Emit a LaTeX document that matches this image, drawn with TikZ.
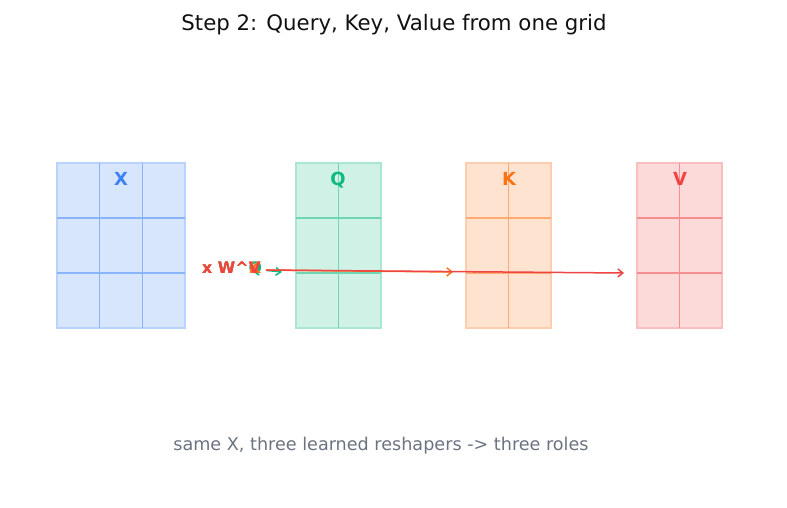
\documentclass[tikz,border=0pt]{standalone}
\usepackage{fontspec}
\setmainfont{DejaVu Sans}
\usetikzlibrary{arrows.meta}
\definecolor{cx}{HTML}{3B82F6}
\definecolor{cq}{HTML}{10B981}
\definecolor{ck}{HTML}{F97316}
\definecolor{cv}{HTML}{EF4444}
\definecolor{cgray}{HTML}{6B7280}
\definecolor{ctitle}{HTML}{111111}
\begin{document}
\begin{tikzpicture}[x=1bp,y=-1bp,
  gridbox/.style={draw=#1!35,fill=#1!20,line width=1.2bp,inner sep=0,outer sep=0,minimum height=165bp},
  gridline/.style={draw=#1!60,line width=1.4bp},
  boxlabel/.style={text=#1,font=\fontsize{18bp}{20bp}\selectfont\bfseries,inner sep=0},
  wlabel/.style={text=#1,font=\fontsize{15.8bp}{18bp}\selectfont\bfseries,inner sep=0,text height=11bp,text depth=3bp,anchor=base west},
  warrow/.style={draw=#1,line width=1.5bp,-{Straight Barb[length=5bp,width=8bp]},shorten <=5bp}
]
\useasboundingbox (0,0) rectangle (787,508);

\node[font=\fontsize{21.3bp}{25bp}\selectfont,text=ctitle] (title) at (394,25) {Step 2: Query, Key, Value from one grid};

% X grid
\node[gridbox=cx,minimum width=128bp] (gx) at (121,245.5) {};
\draw[gridline=cx] ([xshift=42.67bp]gx.north west) -- ([xshift=42.67bp]gx.south west);
\draw[gridline=cx] ([xshift=85.33bp]gx.north west) -- ([xshift=85.33bp]gx.south west);
\draw[gridline=cx] ([yshift=-55bp]gx.north west) -- ([yshift=-55bp]gx.north east);
\draw[gridline=cx] ([yshift=-110bp]gx.north west) -- ([yshift=-110bp]gx.north east);
\node[boxlabel=cx] (lx) at (121,179) {X};

% Q grid
\node[gridbox=cq,minimum width=85bp] (gq) at (338.5,245.5) {};
\draw[gridline=cq] (gq.north) -- (gq.south);
\draw[gridline=cq] ([yshift=-55bp]gq.north west) -- ([yshift=-55bp]gq.north east);
\draw[gridline=cq] ([yshift=-110bp]gq.north west) -- ([yshift=-110bp]gq.north east);
\node[boxlabel=cq] (lqq) at (338,180) {Q};

% K grid
\node[gridbox=ck,minimum width=85bp] (gk) at (508.5,245.5) {};
\draw[gridline=ck] (gk.north) -- (gk.south);
\draw[gridline=ck] ([yshift=-55bp]gk.north west) -- ([yshift=-55bp]gk.north east);
\draw[gridline=ck] ([yshift=-110bp]gk.north west) -- ([yshift=-110bp]gk.north east);
\node[boxlabel=ck] (lkk) at (509,179) {K};

% V grid
\node[gridbox=cv,minimum width=85bp] (gv) at (679.5,245.5) {};
\draw[gridline=cv] (gv.north) -- (gv.south);
\draw[gridline=cv] ([yshift=-55bp]gv.north west) -- ([yshift=-55bp]gv.north east);
\draw[gridline=cv] ([yshift=-110bp]gv.north west) -- ([yshift=-110bp]gv.north east);
\node[boxlabel=cv] (lvv) at (680,179) {V};

% projection labels and arrows
\coordinate (qin) at (282,272);
\coordinate (kin) at (453,272);
\coordinate (vin) at (624,273);
\node[wlabel=cq] (lq) at (202,274) {x W\^{}Q};
\node[wlabel=ck] (lk) at (202,274) {x W\^{}K};
\node[wlabel=cv] (lv) at (202,274) {x W\^{}V};
\draw[warrow=cq] (lq.east) -- (qin);
\draw[warrow=ck] (lk.east) -- (kin);
\draw[warrow=cv] (lv.east) -- (vin);

\node[font=\fontsize{17.6bp}{20bp}\selectfont,text=cgray] (note) at (381,446) {same X, three learned reshapers -> three roles};
\end{tikzpicture}
\end{document}
